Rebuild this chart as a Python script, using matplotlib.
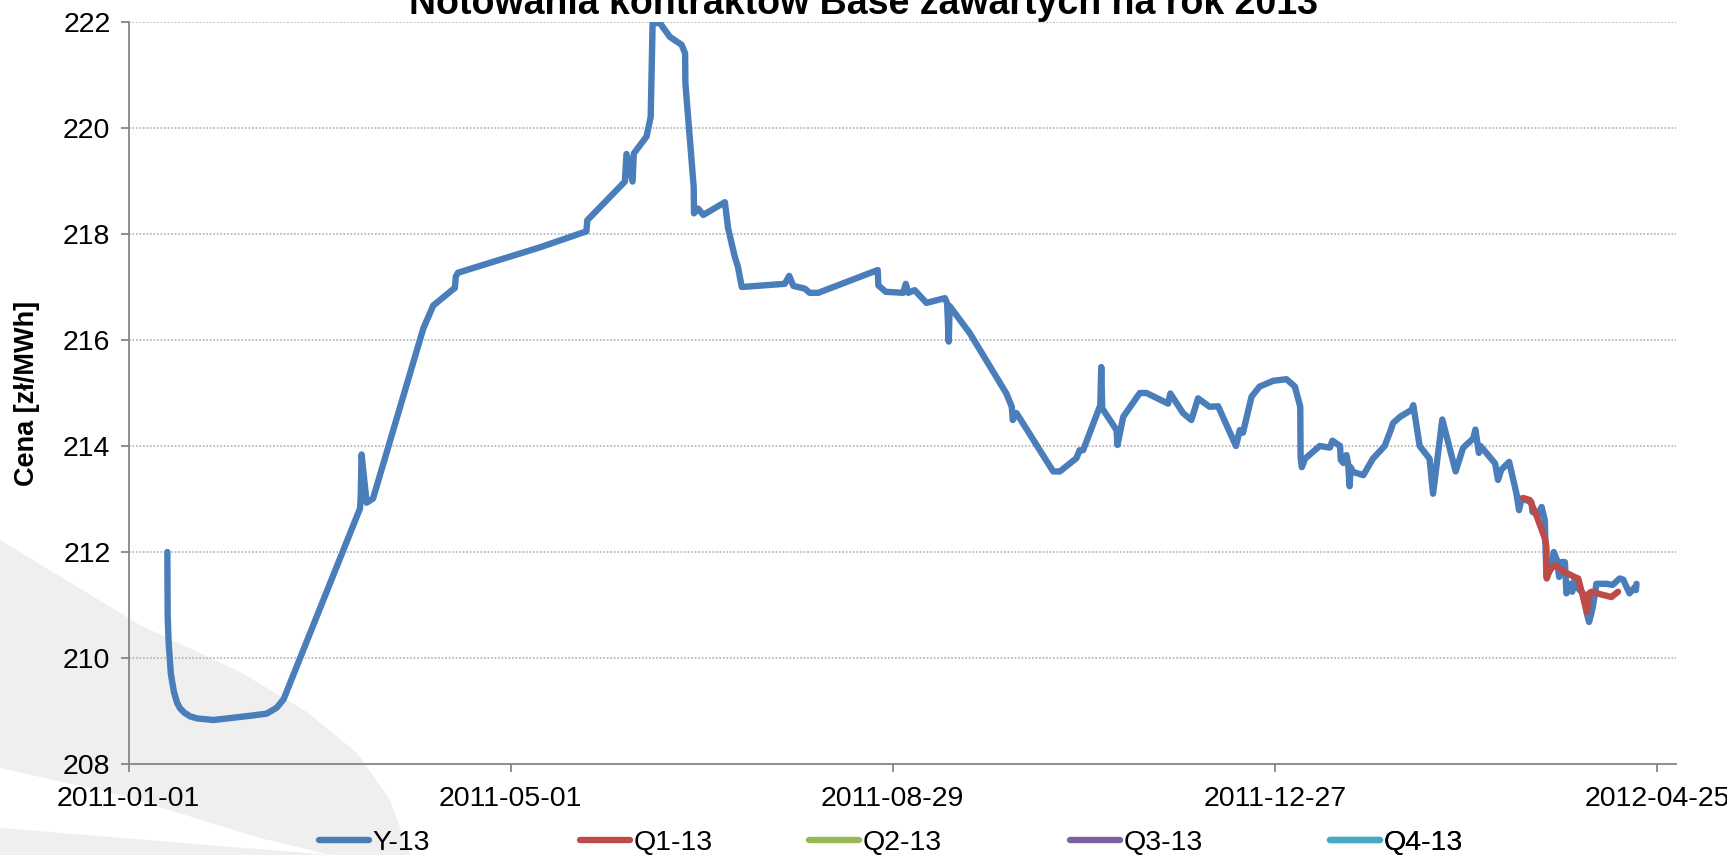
import numpy as np
import matplotlib
matplotlib.use("Agg")
import matplotlib.pyplot as plt
from matplotlib.patches import Polygon

plt.rcParams['font.family'] = ['Liberation Sans', 'DejaVu Sans']

# ---------------- data ----------------
title = "Notowania kontraktów Base zawartych na rok 2013"
ylabel = "Cena [zł/MWh]"
base_date = "2011-01-01"
end_date = "2012-05-01"
x_tick_labels = ["2011-01-01", "2011-05-01", "2011-08-29", "2011-12-27", "2012-04-25"]
y_ticks = [208, 210, 212, 214, 216, 218, 220, 222]
series_names = ["Y-13", "Q1-13", "Q2-13", "Q3-13", "Q4-13"]
series_colors = ["#4A7EBB", "#BE4B48", "#98B954", "#7D60A0", "#46AAC5"]

# days since 2011-01-01
y13_days = [12.2, 12.3, 12.6, 13.0, 13.3, 14.0, 14.3, 15.3, 16.2, 17.5, 19.3, 21.5, 26.7,
            38.2, 43.4, 46.5, 48.7,
            72.7, 72.9, 73.2, 74.8, 76.8, 92.6, 95.7, 102.0, 102.5, 102.8, 103.5,
            129.3, 143.8, 144.1, 155.9, 156.4, 158.3, 158.7, 162.7, 164.0, 164.6,
            166.9, 170.0, 173.7, 174.8, 174.9, 177.5, 177.6, 178.9, 180.5, 187.3,
            188.3, 190.4, 191.4, 192.6, 206.1, 207.5, 208.8, 212.4, 213.9, 216.6,
            235.3, 235.5, 237.8, 243.3, 244.1, 244.9, 246.9, 250.6, 256.4, 257.1,
            257.6, 257.9, 264.2, 275.7, 277.4, 277.7, 278.9, 290.4, 292.5, 297.7,
            298.7, 299.8, 305.2, 305.5, 305.8, 310.3, 310.6, 312.4, 317.6, 319.7,
            326.5, 327.2, 331.2, 333.8, 335.9, 339.5, 342.2, 347.8, 349.0, 350.0,
            352.7, 355.2, 359.5, 363.7, 366.3, 368.0, 368.1, 368.5, 369.5, 374.1,
            377.3, 378.1, 380.5, 380.7, 381.5, 382.5, 383.0, 383.5, 383.8, 384.6,
            387.8, 390.8, 394.5, 396.6, 397.1, 399.3, 402.9, 403.5, 405.5, 408.6,
            409.7, 412.6, 416.8, 419.1, 420.1, 422.3, 423.0, 424.1, 424.6, 429.2,
            430.1, 431.1, 433.6, 435.9, 436.7, 437.5, 440.6, 440.9, 442.6, 443.8,
            444.8, 445.1, 445.3, 446.8, 447.6, 448.6, 449.3, 450.0, 451.1, 451.6,
            452.6, 453.4, 454.1, 455.3, 456.8, 458.0, 458.7, 459.4, 459.9, 461.0,
            464.1, 466.1, 468.3, 469.4, 471.4, 473.1, 473.4, 473.6]
y13_vals = [212.0, 210.8, 210.3, 209.95, 209.7, 209.45, 209.35, 209.15, 209.05, 208.97, 208.9, 208.86, 208.83,
            208.91, 208.95, 209.06, 209.22,
            212.82, 213.0, 213.84, 212.93, 213.01, 216.22, 216.65, 216.96, 216.98, 217.2, 217.27,
            217.75, 218.05, 218.26, 218.99, 219.51, 218.99, 219.52, 219.84, 220.21, 221.98,
            221.98, 221.72, 221.57, 221.41, 220.84, 218.89, 218.39, 218.48, 218.36, 218.6,
            218.11, 217.57, 217.38, 217.0, 217.06, 217.21, 217.02, 216.97, 216.89, 216.89,
            217.32, 217.03, 216.91, 216.89, 217.06, 216.89, 216.94, 216.7, 216.79, 216.69,
            215.97, 216.64, 216.13, 214.99, 214.74, 214.49, 214.62, 213.52, 213.52, 213.77,
            213.92, 213.92, 214.77, 215.49, 214.71, 214.3, 214.02, 214.55, 215.0, 215.0,
            214.8, 214.99, 214.62, 214.49, 214.9, 214.74, 214.75, 214.0, 214.3, 214.25,
            214.93, 215.12, 215.23, 215.26, 215.12, 214.74, 213.79, 213.6, 213.76, 214.0,
            213.97, 214.1, 214.0, 213.74, 213.68, 213.83, 213.68, 213.24, 213.6, 213.51,
            213.45, 213.76, 214.0, 214.33, 214.43, 214.55, 214.68, 214.77, 214.0, 213.76,
            213.1, 214.5, 213.52, 213.96, 214.02, 214.14, 214.31, 213.87, 214.0, 213.67,
            213.36, 213.55, 213.7, 213.1, 212.79, 213.01, 212.94, 212.76, 212.7, 212.85,
            212.6, 211.97, 211.53, 211.69, 212.0, 211.85, 211.53, 211.81, 211.81, 211.22,
            211.4, 211.25, 211.47, 211.31, 211.22, 210.84, 210.68, 210.84, 210.97, 211.4,
            211.4, 211.38, 211.5, 211.48, 211.22, 211.34, 211.28, 211.4]

q1_days = [438.0, 440.1, 442.1, 444.8, 445.3, 445.4, 446.3, 447.9, 451.1, 454.1,
           455.3, 456.8, 458.0, 458.7, 459.4, 463.1, 465.7, 467.8]
q1_vals = [213.02, 212.98, 212.7, 212.26, 212.1, 211.5, 211.66, 211.75, 211.62, 211.53,
           211.5, 211.15, 210.87, 211.22, 211.25, 211.19, 211.15, 211.25]

q2_days, q2_vals = [], []
q3_days, q3_vals = [], []
q4_days, q4_vals = [], []

# ---------------- figure ----------------
W, H = 1727, 855
fig = plt.figure(figsize=(W / 100, H / 100), dpi=100)
fig.patch.set_facecolor("white")

# faint decorative swoosh on a background layer (pixel coords, y from top)
bg = fig.add_axes([0, 0, 1, 1], zorder=-5)
bg.set_xlim(0, W)
bg.set_ylim(H, 0)
bg.axis("off")
swoosh = [(0, 540), (140, 625), (240, 672), (307, 712), (357, 753), (390, 800),
          (410, 855), (0, 855)]
bg.add_patch(Polygon(swoosh, closed=True, facecolor="#EFEFEF", edgecolor="none"))
wedge = [(0, 768), (120, 795), (260, 838), (330, 855), (0, 828)]
bg.add_patch(Polygon(wedge, closed=True, facecolor="white", edgecolor="none"))

left, right, top, bottom = 128.5, 1676, 22, 764
ax = fig.add_axes([left / W, 1 - bottom / H, (right - left) / W, (bottom - top) / H])
ax.set_facecolor("none")

d0 = np.datetime64(base_date)
def to_dates(days):
    return [d0 + np.timedelta64(int(round(d * 24 * 60)), "m") for d in days]

all_series = [(y13_days, y13_vals), (q1_days, q1_vals), (q2_days, q2_vals),
              (q3_days, q3_vals), (q4_days, q4_vals)]
lines = []
for (dd, vv), name, col in zip(all_series, series_names, series_colors):
    ln, = ax.plot(to_dates(dd), vv, color=col, lw=4.6, label=name,
                  solid_capstyle="round", solid_joinstyle="round", zorder=3)
    lines.append(ln)

ax.set_ylim(y_ticks[0], y_ticks[-1])
ax.set_yticks(y_ticks)
ax.set_yticklabels([str(t) for t in y_ticks])
ax.set_xticks([np.datetime64(t) for t in x_tick_labels])
ax.set_xticklabels(x_tick_labels)
ax.set_xlim(d0, np.datetime64(end_date))

ax.grid(axis="y", color="#ABABAB", lw=1.1, linestyle=(0, (1.1, 1.2)))
ax.set_axisbelow(True)
for s in ["top", "right"]:
    ax.spines[s].set_visible(False)
for s in ["left", "bottom"]:
    ax.spines[s].set_color("#868686")
    ax.spines[s].set_linewidth(1.3)
ax.tick_params(axis="both", colors="#868686", labelcolor="black", labelsize=20.5,
               length=5.5, width=1.3, direction="out")
ax.tick_params(axis="y", pad=7.5)
ax.tick_params(axis="x", pad=10)

fig.text(27 / W, 1 - 393 / H, ylabel, rotation=90, ha="center", va="center",
         fontsize=19.5, fontweight="bold")
fig.text(0.5, 1 - 14 / H, title, ha="center", va="baseline", fontsize=27,
         fontweight="bold")

# legend entries placed individually along the bottom
legend_x = [319, 580, 809, 1070, 1330]
for ln, xl in zip(lines, legend_x):
    leg = ax.legend(handles=[ln], loc="center left",
                    bbox_to_anchor=(xl / W, 1 - 843 / H),
                    bbox_transform=fig.transFigure, frameon=False, fontsize=20.5,
                    handlelength=1.75, handletextpad=0.12,
                    borderpad=0, borderaxespad=0)
    ax.add_artist(leg)

fig.savefig("out.png", dpi=100, facecolor="white")
